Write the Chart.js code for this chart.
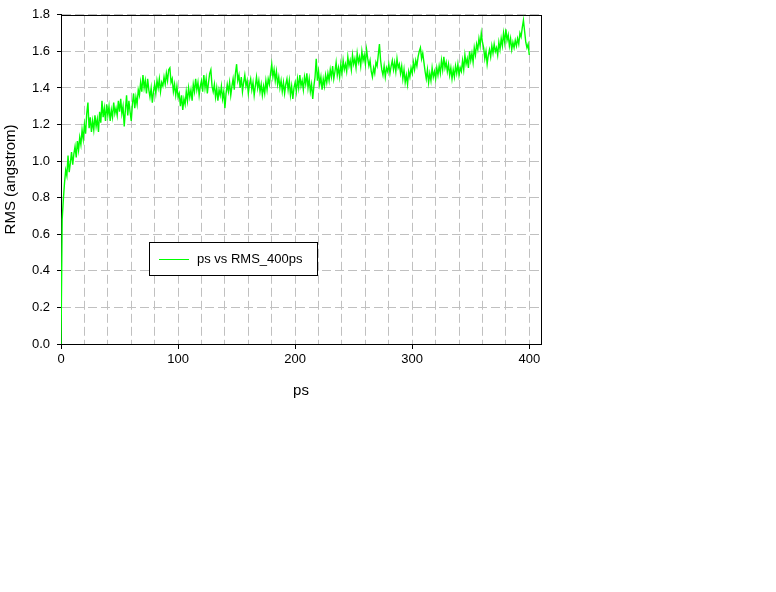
<!DOCTYPE html>
<html>
<head>
<meta charset="utf-8">
<script src="https://cdn.jsdelivr.net/npm/chart.js@4/dist/chart.umd.min.js"></script>
<style>
  html, body { margin: 0; padding: 0; background: #ffffff; }
  #wrap { width: 776px; height: 592px; }
</style>
</head>
<body>
<div id="wrap"><canvas id="c" width="776" height="592"></canvas></div>
<script>
// ---- Data ----
const seriesLabel = 'ps vs RMS_400ps';
const xTitle = 'ps';
const yTitle = 'RMS (angstrom)';
const psStart = 0;
const psStep = 1;
const rmsValues = [
  0.00, 0.68, 0.79, 0.88, 0.95, 0.92, 1.03, 0.94, 0.99, 1.05,
  0.98, 1.04, 1.08, 1.02, 1.11, 1.06, 1.13, 1.09, 1.17, 1.12,
  1.20, 1.15, 1.26, 1.32, 1.18, 1.24, 1.16, 1.22, 1.17, 1.25,
  1.19, 1.23, 1.16, 1.27, 1.21, 1.33, 1.24, 1.29, 1.22, 1.31,
  1.25, 1.30, 1.22, 1.28, 1.24, 1.32, 1.26, 1.29, 1.25, 1.33,
  1.27, 1.34, 1.26, 1.30, 1.19, 1.28, 1.36, 1.25, 1.33, 1.27,
  1.22, 1.31, 1.37, 1.29, 1.35, 1.31, 1.39, 1.36, 1.43, 1.38,
  1.47, 1.40, 1.44, 1.37, 1.45, 1.39, 1.35, 1.40, 1.32, 1.38,
  1.42, 1.37, 1.44, 1.40, 1.45, 1.38, 1.43, 1.41, 1.46, 1.42,
  1.48, 1.44, 1.50, 1.51, 1.43, 1.45, 1.38, 1.42, 1.36, 1.41,
  1.35, 1.37, 1.30, 1.36, 1.28, 1.34, 1.31, 1.38, 1.33, 1.40,
  1.35, 1.39, 1.33, 1.42, 1.38, 1.45, 1.39, 1.43, 1.36, 1.41,
  1.44, 1.38, 1.47, 1.40, 1.45, 1.37, 1.43, 1.48, 1.50, 1.41,
  1.38, 1.42, 1.35, 1.40, 1.33, 1.39, 1.36, 1.41, 1.34, 1.38,
  1.29, 1.37, 1.42, 1.38, 1.43, 1.36, 1.41, 1.45, 1.39, 1.48,
  1.53, 1.44, 1.47, 1.40, 1.46, 1.38, 1.43, 1.47, 1.41, 1.44,
  1.37, 1.42, 1.45, 1.39, 1.43, 1.36, 1.41, 1.46, 1.40, 1.44,
  1.38, 1.42, 1.36, 1.41, 1.37, 1.44, 1.39, 1.45, 1.42, 1.48,
  1.53, 1.46, 1.50, 1.44, 1.49, 1.42, 1.46, 1.40, 1.44, 1.38,
  1.43, 1.37, 1.42, 1.45, 1.39, 1.44, 1.36, 1.41, 1.34, 1.40,
  1.43, 1.38, 1.45, 1.40, 1.47, 1.41, 1.44, 1.39, 1.46, 1.42,
  1.48, 1.40, 1.45, 1.38, 1.42, 1.34, 1.41, 1.46, 1.56, 1.44,
  1.49, 1.42, 1.46, 1.39, 1.45, 1.41, 1.47, 1.43, 1.48, 1.44,
  1.50, 1.46, 1.52, 1.45, 1.49, 1.54, 1.47, 1.51, 1.46, 1.53,
  1.48, 1.55, 1.50, 1.53, 1.49, 1.57, 1.52, 1.55, 1.50, 1.58,
  1.53, 1.56, 1.51, 1.59, 1.54, 1.57, 1.52, 1.60, 1.55, 1.58,
  1.53, 1.61, 1.56, 1.52, 1.55, 1.49, 1.46, 1.51, 1.48, 1.54,
  1.52, 1.58, 1.64, 1.55, 1.50, 1.47, 1.52, 1.46, 1.51, 1.49,
  1.53, 1.48, 1.52, 1.55, 1.50, 1.54, 1.49, 1.56, 1.51, 1.53,
  1.48, 1.52, 1.45, 1.50, 1.43, 1.47, 1.42, 1.49, 1.46, 1.51,
  1.48, 1.54, 1.50, 1.55, 1.52, 1.57, 1.60, 1.62, 1.56, 1.59,
  1.54, 1.49, 1.45, 1.50, 1.43, 1.48, 1.44, 1.51, 1.46, 1.49,
  1.45, 1.51, 1.47, 1.52, 1.48, 1.55, 1.50, 1.57, 1.51, 1.54,
  1.49, 1.53, 1.47, 1.51, 1.45, 1.50, 1.46, 1.52, 1.48, 1.53,
  1.47, 1.51, 1.49, 1.55, 1.50, 1.58, 1.53, 1.56, 1.51, 1.60,
  1.55, 1.59, 1.54, 1.62, 1.58, 1.64, 1.61, 1.67, 1.63, 1.70,
  1.65, 1.62, 1.56, 1.60, 1.53, 1.58, 1.61, 1.57, 1.63, 1.59,
  1.64, 1.60, 1.62, 1.58, 1.65, 1.61, 1.67, 1.63, 1.70, 1.65,
  1.72, 1.66, 1.69, 1.63, 1.67, 1.61, 1.65, 1.62, 1.66, 1.63,
  1.67, 1.64, 1.70, 1.68, 1.73, 1.77, 1.71, 1.65, 1.62, 1.64,
  1.58
];
const xMin = 0, xMax = 410, xGridStep = 20, xLabelStep = 100;
const yMin = 0, yMax = 1.8, yStep = 0.2;

// ---- Build points ----
const points = rmsValues.map((v, i) => ({ x: psStart + i * psStep, y: v }));

const FONT = '"Liberation Sans", Arial, sans-serif';
const GRID = '#c0c0c0';
const DASH = [9, 4];

const frameAndLegend = {
  id: 'frameAndLegend',
  beforeDatasetsDraw(chart) {
    const { ctx, chartArea: a } = chart;
    const l = Math.round(a.left) + 0.5, t = Math.round(a.top) + 0.5;
    const r = Math.round(a.right) + 0.5, b = Math.round(a.bottom) + 0.5;
    ctx.save();
    ctx.setLineDash([]);
    ctx.strokeStyle = '#000';
    ctx.lineWidth = 1;
    ctx.strokeRect(l, t, r - l, b - t);
    ctx.restore();
  },
  afterDraw(chart) {
    const { ctx } = chart;
    const ds = chart.data.datasets[0];
    const bx = 149.5, by = 242.5, bw = 168, bh = 33;
    ctx.save();
    ctx.setLineDash([]);
    ctx.fillStyle = '#fff';
    ctx.fillRect(bx, by, bw, bh);
    ctx.strokeStyle = '#000';
    ctx.lineWidth = 1;
    ctx.strokeRect(bx, by, bw, bh);
    ctx.strokeStyle = ds.borderColor;
    ctx.beginPath();
    ctx.moveTo(159, 259.5);
    ctx.lineTo(189, 259.5);
    ctx.stroke();
    ctx.fillStyle = '#000';
    ctx.font = '13px ' + FONT;
    ctx.textBaseline = 'middle';
    ctx.textAlign = 'left';
    ctx.fillText(ds.label, 197, 259.5);
    ctx.restore();
  }
};

new Chart(document.getElementById('c'), {
  type: 'line',
  data: {
    datasets: [{
      label: seriesLabel,
      data: points,
      borderColor: '#00ff00',
      backgroundColor: '#00ff00',
      borderWidth: 1.4,
      pointRadius: 0,
      tension: 0,
      fill: false
    }]
  },
  options: {
    responsive: false,
    animation: false,
    events: [],
    layout: { padding: { left: 0, top: 8, right: 235, bottom: 192 } },
    plugins: { legend: { display: false }, tooltip: { enabled: false } },
    scales: {
      x: {
        type: 'linear',
        min: xMin, max: xMax,
        afterFit(s) { s.height = 56; },
        border: { color: '#000', width: 1, dash: DASH },
        grid: {
          color: GRID,
          borderDash: DASH,
          lineWidth: 1,
          tickLength: 5,
          tickColor: (c) => (c.tick && c.tick.value % xLabelStep === 0) ? '#000' : 'rgba(0,0,0,0)',
          tickBorderDash: []
        },
        ticks: {
          stepSize: xGridStep,
          includeBounds: false,
          autoSkip: false,
          maxRotation: 0,
          padding: 3,
          color: '#000',
          font: { family: FONT, size: 13 },
          callback: (v) => (v % xLabelStep === 0 ? String(v) : '')
        },
        title: {
          display: true, text: xTitle, color: '#000',
          font: { family: FONT, size: 15 },
          padding: { top: 0, bottom: 0 }
        }
      },
      y: {
        type: 'linear',
        min: yMin, max: yMax,
        afterFit(s) { s.width = 61; },
        border: { color: '#000', width: 1, dash: DASH },
        grid: {
          color: GRID,
          borderDash: DASH,
          lineWidth: 1,
          tickLength: 4,
          tickColor: '#000',
          tickBorderDash: []
        },
        ticks: {
          stepSize: yStep,
          padding: 7,
          color: '#000',
          font: { family: FONT, size: 13 },
          callback: (v) => Number(v).toFixed(1)
        },
        title: {
          display: true, text: yTitle, color: '#000',
          font: { family: FONT, size: 15 },
          padding: { top: 2, bottom: 0 }
        }
      }
    }
  },
  plugins: [frameAndLegend]
});
</script>
</body>
</html>
